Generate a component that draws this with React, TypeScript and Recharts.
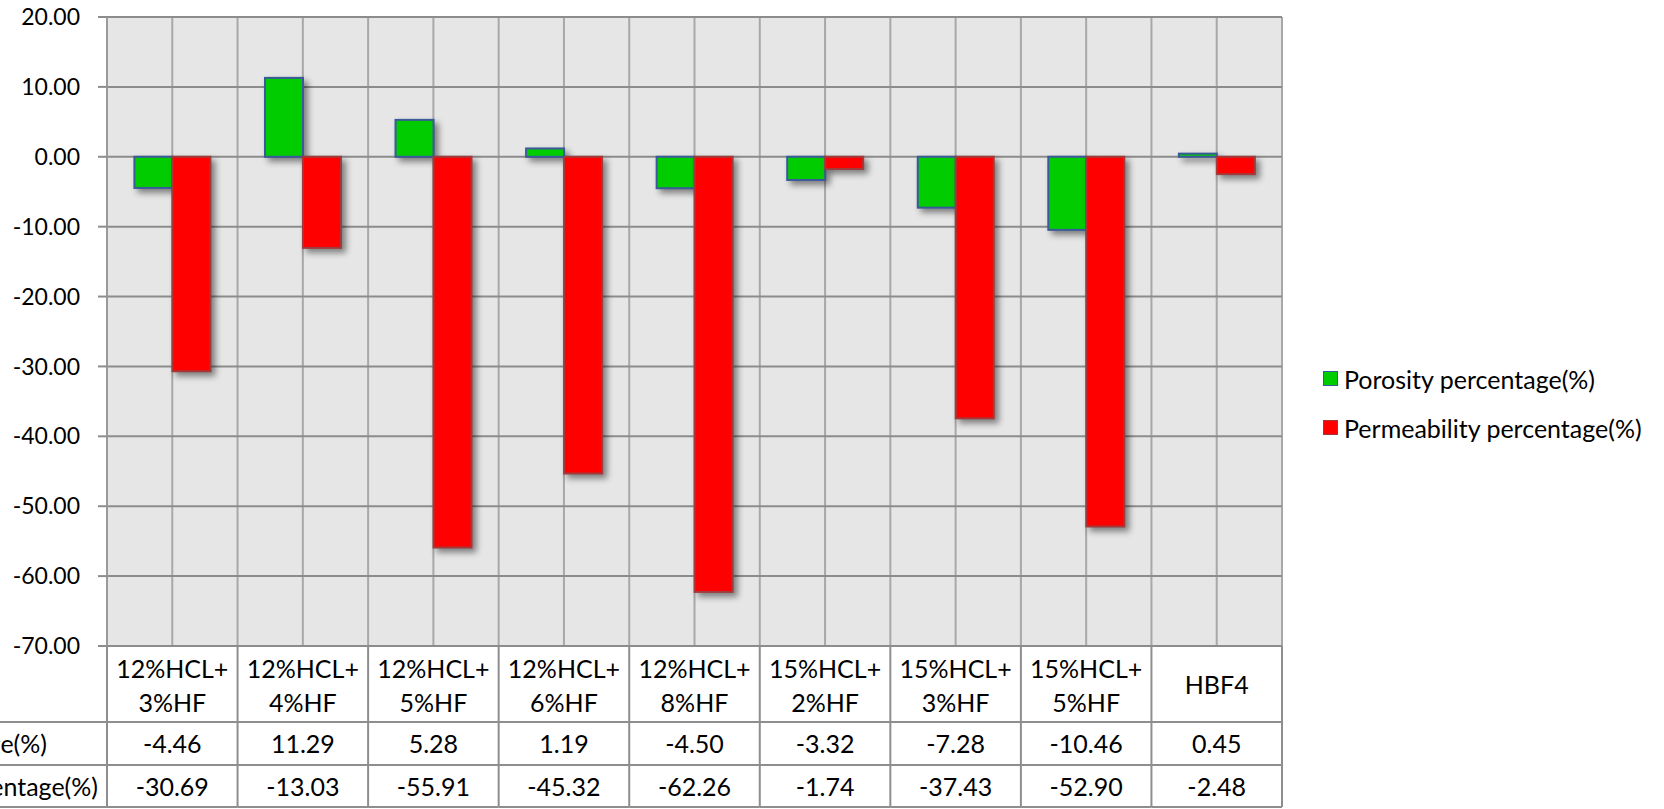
import { BarChart, Bar, XAxis, YAxis, CartesianGrid, Legend } from 'recharts';

// treatments (table header row), line break as in the source table
const categories = [
  '12%HCL+\n3%HF',
  '12%HCL+\n4%HF',
  '12%HCL+\n5%HF',
  '12%HCL+\n6%HF',
  '12%HCL+\n8%HF',
  '15%HCL+\n2%HF',
  '15%HCL+\n3%HF',
  '15%HCL+\n5%HF',
  'HBF4',
];

const porosity = [-4.46, 11.29, 5.28, 1.19, -4.5, -3.32, -7.28, -10.46, 0.45];
const permeability = [-30.69, -13.03, -55.91, -45.32, -62.26, -1.74, -37.43, -52.9, -2.48];

const seriesNames = ['Porosity percentage(%)', 'Permeability percentage(%)'];
const yTicks = [20, 10, 0, -10, -20, -30, -40, -50, -60, -70];

const data = categories.map((name, i) => ({
  name,
  porosity: porosity[i],
  permeability: permeability[i],
}));

const W = 1664;
const H = 809;
const Y_AXIS_W = 107;
const MARGIN = { top: 17, right: 382, bottom: 0, left: 0 };
const TABLE_H = 163;
const PLOT_W = W - MARGIN.right - Y_AXIS_W;
const CELL_W = PLOT_W / categories.length;
const FONT = 'Lato, "Open Sans", sans-serif';
const FS = 23;
const TFS = 25;
const LINE = '#8e8e8e';

const COLORS = {
  porosity: { fill: '#00cc00', stroke: '#3a5a9a' },
  permeability: { fill: '#ff0000', stroke: '#a13a3a' },
};

function ShadowBar(props: any) {
  const { x, y, width, height, fill, stroke } = props;
  if (width == null || height == null) return null;
  const top = Math.min(y, y + height);
  const h = Math.abs(height);
  return (
    <rect
      x={x}
      y={top}
      width={width}
      height={h}
      fill={fill}
      stroke={stroke}
      strokeWidth={2}
      style={{ filter: 'drop-shadow(4px 4px 3px rgba(0,0,0,0.45))' }}
    />
  );
}

function TableTick(props: any) {
  const { x, y, payload } = props;
  const i = categories.indexOf(payload.value);
  const left = x - CELL_W / 2;
  const right = x + CELL_W / 2;
  const lines = categories[i].split('\n');
  const r1 = y + 76;
  const r2 = y + 119;
  const r3 = y + 161;
  return (
    <g>
      {i === 0 && (
        <g>
          <line x1={left} y1={y} x2={left} y2={r3} stroke={LINE} strokeWidth={2} />
          <line x1={0} y1={r1} x2={left} y2={r1} stroke={LINE} strokeWidth={2} />
          <line x1={0} y1={r2} x2={left} y2={r2} stroke={LINE} strokeWidth={2} />
          <line x1={0} y1={r3} x2={left} y2={r3} stroke={LINE} strokeWidth={2} />
          <text x={47} y={y + 97} textAnchor="end" dominantBaseline="central" fontSize={TFS} fill="#000">
            {seriesNames[0]}
          </text>
          <text x={98} y={y + 140} textAnchor="end" dominantBaseline="central" fontSize={TFS} fill="#000">
            {seriesNames[1]}
          </text>
        </g>
      )}
      <line x1={right} y1={y} x2={right} y2={r3} stroke={LINE} strokeWidth={2} />
      <line x1={left} y1={r1} x2={right} y2={r1} stroke={LINE} strokeWidth={2} />
      <line x1={left} y1={r2} x2={right} y2={r2} stroke={LINE} strokeWidth={2} />
      <line x1={left} y1={r3} x2={right} y2={r3} stroke={LINE} strokeWidth={2} />
      {lines.length === 1 ? (
        <text x={x} y={y + 38} textAnchor="middle" dominantBaseline="central" fontSize={TFS} fill="#000">
          {lines[0]}
        </text>
      ) : (
        lines.map((t, k) => (
          <text key={k} x={x} y={y + 22 + k * 34} textAnchor="middle" dominantBaseline="central" fontSize={TFS} fill="#000">
            {t}
          </text>
        ))
      )}
      <text x={x} y={y + 97} textAnchor="middle" dominantBaseline="central" fontSize={TFS} fill="#000">
        {porosity[i].toFixed(2)}
      </text>
      <text x={x} y={y + 140} textAnchor="middle" dominantBaseline="central" fontSize={TFS} fill="#000">
        {permeability[i].toFixed(2)}
      </text>
    </g>
  );
}

function LegendBox(props: any) {
  const items = [...(props.payload || [])].sort(
    (a: any, b: any) => seriesNames.indexOf(a.value) - seriesNames.indexOf(b.value)
  );
  return (
    <div style={{ fontFamily: FONT, fontSize: 25, color: '#000' }}>
      {items.map((it: any, k: number) => {
        const c = it.dataKey === 'porosity' ? COLORS.porosity : COLORS.permeability;
        return (
          <div key={k} style={{ display: 'flex', alignItems: 'center', height: 49 }}>
            <span
              style={{
                display: 'inline-block',
                width: 13,
                height: 13,
                background: c.fill,
                border: `1.5px solid ${c.stroke}`,
                marginRight: 6,
              }}
            />
            <span>{it.value}</span>
          </div>
        );
      })}
    </div>
  );
}

export default function App() {
  const vLines = ({ offset }: any) =>
    Array.from({ length: categories.length * 2 + 1 }, (_, i) => offset.left + (i * offset.width) / (categories.length * 2));

  return (
    <div style={{ position: 'absolute', left: 0, top: 0, width: W, height: H, fontFamily: FONT }}>
      <BarChart width={W} height={H} data={data} margin={MARGIN} barGap={0} barCategoryGap="21%">
        <CartesianGrid
          horizontal={false}
          fill="#e6e6e6"
          fillOpacity={1}
          stroke="#a8a8a8"
          strokeWidth={2}
          verticalCoordinatesGenerator={vLines}
        />
        <CartesianGrid vertical={false} stroke="#8c8c8c" strokeWidth={2} />
        <XAxis
          dataKey="name"
          height={TABLE_H}
          interval={0}
          axisLine={false}
          tickLine={false}
          tickSize={0}
          tickMargin={0}
          tick={<TableTick />}
        />
        <YAxis
          width={Y_AXIS_W}
          domain={[-70, 20]}
          ticks={yTicks}
          interval={0}
          tickFormatter={(v: number) => v.toFixed(2)}
          tick={{ fontSize: FS, fill: '#000' }}
          tickSize={9}
          tickMargin={18}
          axisLine={{ stroke: '#9a9a9a', strokeWidth: 2 }}
          tickLine={{ stroke: '#8c8c8c', strokeWidth: 2 }}
        />
        <Legend
          layout="vertical"
          align="center"
          verticalAlign="middle"
          content={<LegendBox />}
          wrapperStyle={{ left: 1323, top: 354, width: 340 }}
        />
        <Bar
          dataKey="porosity"
          name={seriesNames[0]}
          fill={COLORS.porosity.fill}
          stroke={COLORS.porosity.stroke}
          shape={<ShadowBar />}
          isAnimationActive={false}
        />
        <Bar
          dataKey="permeability"
          name={seriesNames[1]}
          fill={COLORS.permeability.fill}
          stroke={COLORS.permeability.stroke}
          shape={<ShadowBar />}
          isAnimationActive={false}
        />
      </BarChart>
    </div>
  );
}
